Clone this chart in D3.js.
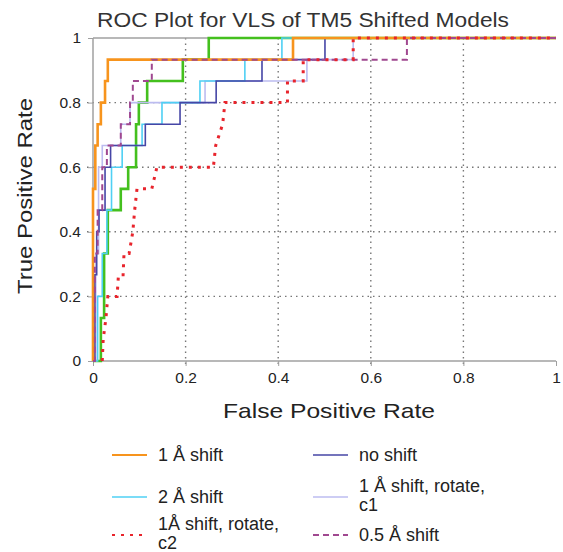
<!DOCTYPE html>
<html>
<head>
<meta charset="utf-8">
<script src="https://cdn.jsdelivr.net/npm/d3@7"></script>
<style>
  html, body { margin: 0; padding: 0; background: #fff; }
  svg { display: block; font-family: "Liberation Sans", Arial, sans-serif; }
</style>
</head>
<body>
<svg id="chart" width="563" height="552"></svg>
<script>
// ROC curves, [fpr, tpr] points
var oneShift = [[0,0],[0,0.533],[0.005,0.533],[0.005,0.667],[0.01,0.667],[0.01,0.733],[0.017,0.733],[0.017,0.8],[0.026,0.8],[0.026,0.867],[0.032,0.867],[0.032,0.933],[0.432,0.933],[0.432,1],[1,1]]
var twoShift = [[0,0],[0.01,0],[0.01,0.2],[0.02,0.2],[0.02,0.333],[0.03,0.333],[0.03,0.467],[0.04,0.467],[0.04,0.6],[0.063,0.6],[0.063,0.667],[0.106,0.667],[0.106,0.733],[0.149,0.733],[0.149,0.8],[0.231,0.8],[0.231,0.867],[0.328,0.867],[0.328,0.933],[0.408,0.933],[0.408,1],[1,1]]
var rotC2 = [[0.02,0],[0.022,0.067],[0.028,0.133],[0.032,0.2],[0.052,0.2],[0.055,0.267],[0.065,0.267],[0.067,0.333],[0.078,0.333],[0.086,0.4],[0.09,0.467],[0.095,0.533],[0.127,0.533],[0.138,0.6],[0.26,0.6],[0.265,0.667],[0.28,0.733],[0.285,0.8],[0.42,0.8],[0.42,0.867],[0.454,0.867],[0.454,0.933],[0.562,0.933],[0.562,1],[1,1]]
var noShift = [[0,0],[0.004,0],[0.004,0.267],[0.008,0.267],[0.008,0.4],[0.013,0.4],[0.013,0.467],[0.026,0.467],[0.026,0.6],[0.038,0.6],[0.038,0.667],[0.113,0.667],[0.113,0.733],[0.188,0.733],[0.188,0.8],[0.266,0.8],[0.266,0.867],[0.365,0.867],[0.365,0.933],[0.501,0.933],[0.501,1],[1,1]]
var rotC1 = [[0,0],[0.006,0],[0.006,0.333],[0.012,0.333],[0.012,0.6],[0.02,0.6],[0.02,0.667],[0.06,0.667],[0.06,0.733],[0.08,0.733],[0.08,0.8],[0.242,0.8],[0.242,0.867],[0.462,0.867],[0.462,0.933],[0.562,0.933],[0.562,1],[1,1]]
var halfShift = [[0,0],[0.004,0],[0.004,0.333],[0.01,0.333],[0.01,0.467],[0.02,0.467],[0.02,0.6],[0.03,0.6],[0.03,0.667],[0.06,0.667],[0.06,0.733],[0.08,0.733],[0.08,0.8],[0.086,0.8],[0.086,0.867],[0.127,0.867],[0.127,0.933],[0.678,0.933],[0.678,1],[1,1]]
// green curve, its legend entry is cut off at the bottom of the picture
var greenCurve = [[0,0],[0.017,0],[0.017,0.133],[0.024,0.133],[0.024,0.333],[0.032,0.333],[0.032,0.467],[0.06,0.467],[0.06,0.533],[0.076,0.533],[0.076,0.6],[0.093,0.6],[0.093,0.733],[0.099,0.733],[0.099,0.8],[0.117,0.8],[0.117,0.867],[0.194,0.867],[0.194,0.933],[0.25,0.933],[0.25,1],[1,1]]

var ticks = [0, 0.2, 0.4, 0.6, 0.8, 1]
var tickLabels = ['0', '0.2', '0.4', '0.6', '0.8', '1']

var series = [
  { name: null, data: greenCurve, color: '#44c01e', width: 2.6, dash: null },
  { name: '1 Å shift, rotate, c1', data: rotC1, color: '#bcbcf0', width: 1.6, dash: null },
  { name: '2 Å shift', data: twoShift, color: '#4fd0f4', width: 1.6, dash: null },
  { name: 'no shift', data: noShift, color: '#4646a6', width: 1.6, dash: null },
  { name: '1 Å shift', data: oneShift, color: '#f7941d', width: 2.6, dash: null },
  { name: '0.5 Å shift', data: halfShift, color: '#a04890', width: 2, dash: '6,4' },
  { name: '1Å shift, rotate, c2', data: rotC2, color: '#e8242c', width: 3, dash: '3,6' }
]

var svg = d3.select('#chart')
var margin = { left: 93, right: 7, top: 38, bottom: 191 }
var width = 563 - margin.left - margin.right
var height = 552 - margin.top - margin.bottom

var x = d3.scaleLinear().domain([0, 1]).range([0, width])
var y = d3.scaleLinear().domain([0, 1]).range([height, 0])

var g = svg.append('g').attr('transform', 'translate(' + margin.left + ',' + margin.top + ')')

// dotted grid
g.selectAll('.vgrid').data(ticks.slice(1, 5)).enter().append('line')
  .attr('x1', d => x(d)).attr('x2', d => x(d))
  .attr('y1', 0).attr('y2', height + 5)
  .attr('stroke', '#777').attr('stroke-width', 1.4).attr('stroke-dasharray', '1.5,4')
g.selectAll('.hgrid').data(ticks.slice(1, 5)).enter().append('line')
  .attr('x1', -6).attr('x2', width)
  .attr('y1', d => y(d)).attr('y2', d => y(d))
  .attr('stroke', '#777').attr('stroke-width', 1.4).attr('stroke-dasharray', '1.5,4')

// frame
g.append('line').attr('x1', 0).attr('x2', 0).attr('y1', 0).attr('y2', height).attr('stroke', '#a0a0a0').attr('stroke-width', 1.5)
g.append('line').attr('x1', 0).attr('x2', width).attr('y1', height).attr('y2', height).attr('stroke', '#a0a0a0').attr('stroke-width', 1.5)
g.append('line').attr('x1', 0).attr('x2', width).attr('y1', 0).attr('y2', 0).attr('stroke', '#a0a0a0').attr('stroke-width', 1.5)

// axes
var xAxis = d3.axisBottom(x).tickValues(ticks).tickFormat((d, i) => tickLabels[i]).tickSize(5).tickPadding(6)
var yAxis = d3.axisLeft(y).tickValues(ticks).tickFormat((d, i) => tickLabels[i]).tickSize(5).tickPadding(7)
var gx = g.append('g').attr('transform', 'translate(0,' + height + ')').call(xAxis)
var gy = g.append('g').call(yAxis)
;[gx, gy].forEach(function (a) {
  a.select('.domain').remove()
  a.selectAll('.tick line').attr('stroke', '#a0a0a0')
  a.selectAll('.tick text').attr('fill', '#222').style('font-size', '15.5px').style('font-family', '"Liberation Sans", Arial, sans-serif')
})

// curves
var line = d3.line().x(d => x(d[0])).y(d => y(d[1]))
g.selectAll('.curve').data(series).enter().append('path')
  .attr('d', d => line(d.data))
  .attr('fill', 'none')
  .attr('stroke', d => d.color)
  .attr('stroke-width', d => d.width)
  .attr('stroke-dasharray', d => d.dash)

// titles (the picture's text is a little stretched sideways)
svg.append('text').attr('x', 303).attr('y', 27).attr('text-anchor', 'middle')
  .style('font-size', '20px').attr('fill', '#333')
  .attr('textLength', 412).attr('lengthAdjust', 'spacingAndGlyphs')
  .text('ROC Plot for VLS of TM5 Shifted Models')
svg.append('text').attr('x', 329).attr('y', 418).attr('text-anchor', 'middle')
  .style('font-size', '21px').attr('fill', '#222')
  .attr('textLength', 212).attr('lengthAdjust', 'spacingAndGlyphs')
  .text('False Positive Rate')
svg.append('text').attr('transform', 'translate(32,196) rotate(-90)').attr('text-anchor', 'middle')
  .style('font-size', '21px').attr('fill', '#222')
  .attr('textLength', 196).attr('lengthAdjust', 'spacingAndGlyphs')
  .text('True Positive Rate')

// legend
var legendItems = [
  { s: series[4], col: 0, y: 455, lines: ['1 Å shift'] },
  { s: series[2], col: 0, y: 497, lines: ['2 Å shift'] },
  { s: series[6], col: 0, y: 535, lines: ['1Å shift, rotate,', 'c2'] },
  { s: series[3], col: 1, y: 455, lines: ['no shift'] },
  { s: series[1], col: 1, y: 497, lines: ['1 Å shift, rotate,', 'c1'] },
  { s: series[5], col: 1, y: 535, lines: ['0.5 Å shift'] }
]
var colX = [112, 313]
var leg = svg.append('g')
legendItems.forEach(function (it) {
  var lx = colX[it.col]
  leg.append('line').attr('x1', lx).attr('x2', lx + 35).attr('y1', it.y).attr('y2', it.y)
    .attr('stroke', it.s.color).attr('stroke-width', Math.min(it.s.width, 2))
    .attr('stroke-dasharray', it.s.dash)
  var t = leg.append('text').attr('x', lx + 46).style('font-size', '18px').attr('fill', '#222')
  if (it.lines.length === 1) {
    t.attr('y', it.y + 6).text(it.lines[0])
  } else {
    t.attr('y', it.y - 5).text(it.lines[0])
    leg.append('text').attr('x', lx + 46).attr('y', it.y + 14).style('font-size', '18px').attr('fill', '#222').text(it.lines[1])
  }
})
</script>
</body>
</html>
